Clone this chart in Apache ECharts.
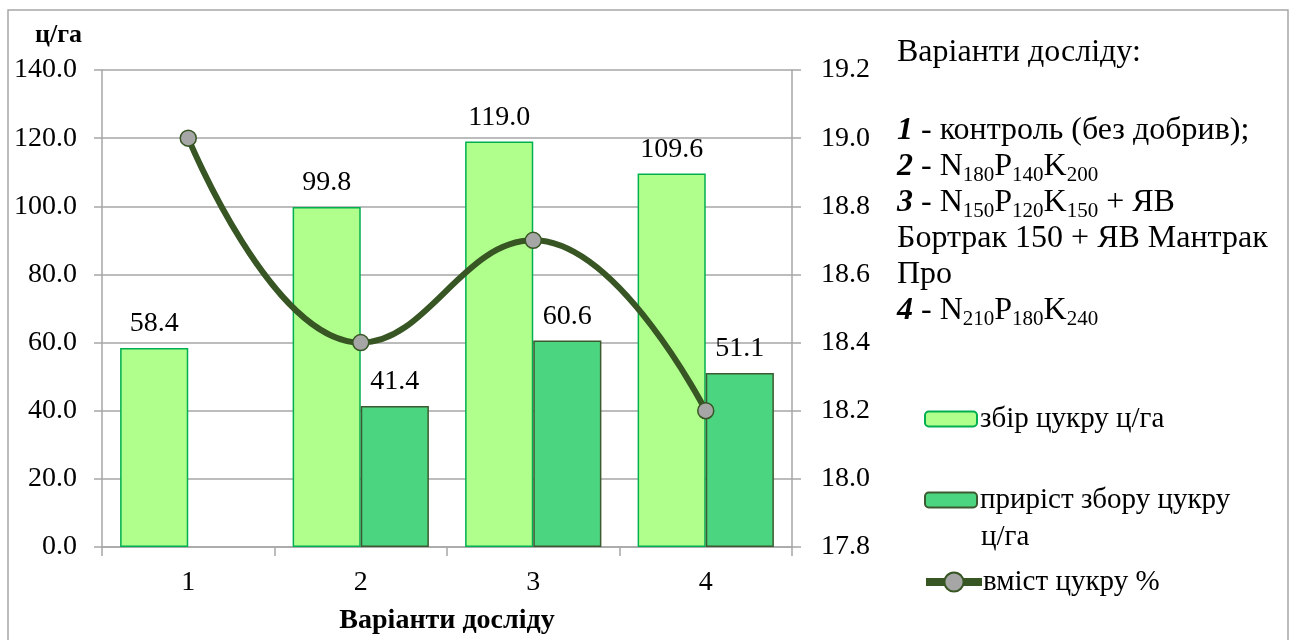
<!DOCTYPE html>
<html><head><meta charset="utf-8">
<script src="https://cdn.jsdelivr.net/npm/echarts@6/dist/echarts.min.js"></script>
<style>html,body{margin:0;padding:0;background:#fff}#c{width:1296px;height:640px}</style>
</head><body><div id="c"></div>
<script>
const categories = ['1', '2', '3', '4'];
const sugarYield = [58.4, 99.8, 119.0, 109.6];
const yieldGain = [null, 41.4, 60.6, 51.1];
const sugarContent = [19.0, 18.4, 18.7, 18.2];
const seriesNames = ['збір цукру ц/га', 'приріст збору цукру ц/га', 'вміст цукру %'];

const F = '"Liberation Serif","Times New Roman",serif';
const chart = echarts.init(document.getElementById('c'));
const lblStyle = {show: true, position: 'top', distance: 10, color: '#000', fontFamily: F, fontSize: 28, formatter: p => p.value == null ? '' : p.value.toFixed(1)};
const base = {fontFamily: F, fontSize: 32, color: '#000', lineHeight: 36};
const rich = {
  n: Object.assign({}, base),
  b: Object.assign({}, base, {fontWeight: 'bold', fontStyle: 'italic'}),
  s: {fontFamily: F, fontSize: 21, color: '#000', lineHeight: 36, padding: [16, 0, 0, 0]}
};
const legText = {fontFamily: F, fontSize: 29, color: '#000', lineHeight: 30, padding: [0, 0, 0, -2]};
chart.setOption({
  animation: false,
  grid: {left: 102, right: 504, top: 70, bottom: 92},
  legend: [
    {data: [seriesNames[0]], left: 924, top: 404, itemWidth: 52, itemHeight: 15},
    {data: [seriesNames[1]], left: 924, top: 485, itemWidth: 52, itemHeight: 15,
     formatter: () => 'приріст збору цукру'},
    {data: [seriesNames[2]], left: 922, top: 567, itemWidth: 56, itemHeight: 24,
     lineStyle: {width: 8, color: '#375623'}, textStyle: Object.assign({}, legText, {padding: [0, 0, 0, -4]})}
  ].map(l => Object.assign({orient: 'vertical', padding: 0, itemGap: 0, textStyle: legText}, l)),
  xAxis: {
    type: 'category', data: categories,
    name: 'Варіанти досліду', nameLocation: 'middle', nameGap: 60,
    nameTextStyle: {fontFamily: F, fontSize: 28, fontWeight: 'bold', color: '#000'},
    axisLine: {lineStyle: {color: '#A6A6A6', width: 1.5}},
    axisTick: {show: true, length: 9, lineStyle: {color: '#A6A6A6', width: 1.5}},
    axisLabel: {fontFamily: F, fontSize: 28, color: '#000', margin: 22}
  },
  yAxis: [
    {type: 'value', min: 0, max: 140, interval: 20,
     axisLine: {show: true, lineStyle: {color: '#A6A6A6', width: 1.5}},
     axisTick: {show: true, length: 8, lineStyle: {color: '#A6A6A6', width: 1.5}},
     splitLine: {lineStyle: {color: '#A6A6A6', width: 1.5}},
     axisLabel: {fontFamily: F, fontSize: 28, color: '#000', margin: 25, formatter: v => v.toFixed(1)}},
    {type: 'value', min: 17.8, max: 19.2, interval: 0.2,
     axisLine: {show: true, lineStyle: {color: '#A6A6A6', width: 1.5}},
     axisTick: {show: true, length: 9, lineStyle: {color: '#A6A6A6', width: 1.5}},
     splitLine: {show: false},
     axisLabel: {fontFamily: F, fontSize: 28, color: '#000', margin: 29, formatter: v => v.toFixed(1)}}
  ],
  series: [
    {name: seriesNames[0], type: 'bar', data: sugarYield, barGap: '0%', barCategoryGap: '21%',
     itemStyle: {color: '#B0FF8C', borderColor: '#00B050', borderWidth: 1.5}, label: lblStyle},
    {name: seriesNames[1], type: 'bar', data: yieldGain,
     itemStyle: {color: '#4CD580', borderColor: '#3C5A30', borderWidth: 1.5}, label: lblStyle},
    {name: seriesNames[2], type: 'line', yAxisIndex: 1, data: sugarContent, smooth: 0.45,
     symbol: 'circle', symbolSize: 16,
     lineStyle: {color: '#375623', width: 6},
     itemStyle: {color: '#A6A6A6', borderColor: '#375623', borderWidth: 1.5}}
  ],
  graphic: [
    {type: 'rect', shape: {x: 8, y: 10, width: 1280, height: 640}, style: {fill: 'none', stroke: '#A6A6A6', lineWidth: 1.5}, silent: true},
    {type: 'text', left: 35, top: 22, style: {text: 'ц/га', fontFamily: F, fontSize: 26, fontWeight: 'bold', fill: '#000'}},
    {type: 'text', left: 981, top: 522, style: {text: 'ц/га', fontFamily: F, fontSize: 29, lineHeight: 30, fill: '#000'}},
    {type: 'text', left: 897, top: 37, style: {text: '{n|Варіанти досліду:}', rich: rich}},
    {type: 'text', left: 897, top: 115, style: {
      text: '{b|1}{n| - контроль (без добрив);}\n' +
            '{b|2}{n| - N}{s|180}{n|P}{s|140}{n|K}{s|200}\n' +
            '{b|3}{n| - N}{s|150}{n|P}{s|120}{n|K}{s|150}{n| + ЯВ}\n' +
            '{n|Бортрак 150 + ЯВ Мантрак}\n' +
            '{n|Про}\n' +
            '{b|4}{n| - N}{s|210}{n|P}{s|180}{n|K}{s|240}',
      rich: rich}}
  ]
});
</script></body></html>
